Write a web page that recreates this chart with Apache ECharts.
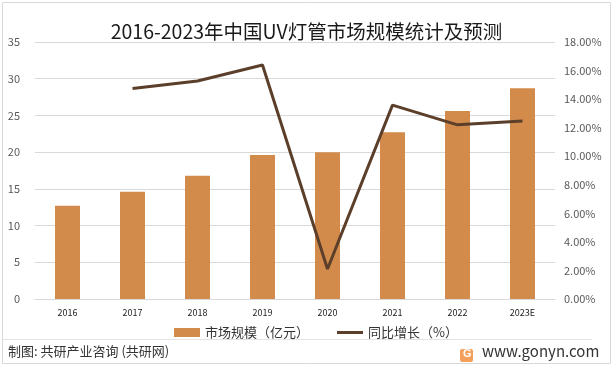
<!DOCTYPE html>
<html><head><meta charset="utf-8">
<script src="https://cdn.jsdelivr.net/npm/echarts@6/dist/echarts.min.js"></script>
<style>html,body{margin:0;padding:0;background:#fff}#c{width:613px;height:370px}</style>
</head><body><div id="c"></div>
<script>
const categories = ['2016','2017','2018','2019','2020','2021','2022','2023E'];
const marketSize = [12.7, 14.6, 16.8, 19.6, 20.0, 22.7, 25.6, 28.7];
const growth = [null, 14.75, 15.27, 16.39, 2.1, 13.58, 12.2, 12.46];
const leftTicks = [0, 35, 5];
const rightTicks = [0, 18, 2];
const F = '"Noto Sans CJK SC", "Microsoft YaHei", sans-serif';
const chart = echarts.init(document.getElementById('c'));
chart.setOption({
  animation: false,
  title: {text: '2016-2023年中国UV灯管市场规模统计及预测', left: 'center', top: 17,
    textStyle: {fontFamily: F, fontSize: 19.5, fontWeight: 'normal', color: '#1a1a1a'}},
  grid: {left: 35, right: 58, top: 42, bottom: 71},
  legend: {top: 321, left: 169, itemGap: 28, itemWidth: 26, itemHeight: 9,
    textStyle: {fontFamily: F, fontSize: 13, color: '#333'},
    data: [{name: '市场规模（亿元）', icon: 'rect'},
           {name: '同比增长（%）', icon: 'path://M0,0 L26,0 L26,3 L0,3 Z', itemStyle: {color: '#5c3f2a'}}]},
  xAxis: {type: 'category', data: categories,
    axisLine: {lineStyle: {color: '#d9d9d9'}}, axisTick: {show: false},
    axisLabel: {fontFamily: F, fontSize: 9, color: '#222', margin: 9}},
  yAxis: [
    {type: 'value', min: leftTicks[0], max: leftTicks[1], interval: leftTicks[2],
     axisLabel: {fontFamily: F, fontSize: 11, color: '#595959', margin: 15},
     splitLine: {lineStyle: {color: '#d9d9d9'}}, axisLine: {show: false}, axisTick: {show: false}},
    {type: 'value', min: rightTicks[0], max: rightTicks[1], interval: rightTicks[2],
     axisLabel: {fontFamily: F, fontSize: 11, color: '#595959', margin: 9,
       formatter: v => v.toFixed(2) + '%'},
     splitLine: {show: false}, axisLine: {show: false}, axisTick: {show: false}}
  ],
  series: [
    {name: '市场规模（亿元）', type: 'bar', data: marketSize, barWidth: 25,
     itemStyle: {color: '#d38b4c'}},
    {name: '同比增长（%）', type: 'line', yAxisIndex: 1, data: growth, symbol: 'none',
     lineStyle: {color: '#5c3f2a', width: 3}, itemStyle: {color: '#5c3f2a'}}
  ],
  graphic: [
    {type: 'rect', shape: {x: 2.5, y: 2.5, width: 608, height: 361}, style: {fill: 'none', stroke: '#d9d9d9', lineWidth: 1}},
    {type: 'line', shape: {x1: 3, y1: 339.5, x2: 592, y2: 339.5}, style: {stroke: '#e3e3e3', lineWidth: 1}},
    {type: 'text', left: 8, top: 345, style: {text: '制图: 共研产业咨询 (共研网)', font: '13px ' + F, fill: '#333'}},
    {type: 'rect', shape: {x: 460, y: 349, width: 13, height: 13, r: 2}, style: {fill: '#f5a05a'}},
    {type: 'text', left: 463, top: 348, style: {text: 'G', font: 'bold 11px sans-serif', fill: '#fff'}},
    {type: 'text', left: 482, top: 344, style: {text: 'www.gonyn.com', font: '15px ' + F, fill: '#333'}}
  ]
});
</script></body></html>
